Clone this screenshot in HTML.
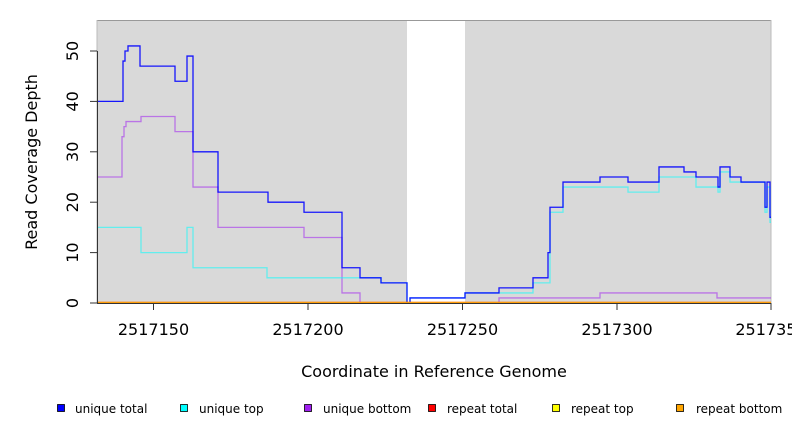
<!DOCTYPE html>
<html><head><meta charset="utf-8"><style>
html,body{margin:0;padding:0;background:#fff;}
svg{display:block;font-family:"DejaVu Sans","Liberation Sans",sans-serif;}
</style></head><body>
<svg id="s" width="792" height="432" viewBox="0 0 792 432">
<rect x="97" y="20" width="310" height="283" fill="#d9d9d9"/>
<rect x="465" y="20" width="306" height="283" fill="#d9d9d9"/>
<line x1="97" y1="20.5" x2="771" y2="20.5" stroke="#999" stroke-width="1"/>
<line x1="97" y1="20" x2="97" y2="303" stroke="#bbb"/>
<line x1="771" y1="20" x2="771" y2="303" stroke="#bbb"/>
<g id="lines"></g>
<g stroke="#333" stroke-width="1">
<line x1="97.5" y1="51" x2="97.5" y2="303"/>
<line x1="90" y1="303" x2="97" y2="303"/><line x1="90" y1="252.6" x2="97" y2="252.6"/>
<line x1="90" y1="202.2" x2="97" y2="202.2"/><line x1="90" y1="151.8" x2="97" y2="151.8"/>
<line x1="90" y1="101.4" x2="97" y2="101.4"/><line x1="90" y1="51" x2="97" y2="51"/>
<line x1="97" y1="303.5" x2="771" y2="303.5"/>
<line x1="153.5" y1="303" x2="153.5" y2="310"/><line x1="308" y1="303" x2="308" y2="310"/>
<line x1="462.5" y1="303" x2="462.5" y2="310"/><line x1="617" y1="303" x2="617" y2="310"/>
<line x1="771" y1="303" x2="771" y2="310"/>
</g>
<g font-size="16" fill="#000" text-anchor="middle">
<text transform="translate(73,303) rotate(-90)" dy="5">0</text>
<text transform="translate(73,252.6) rotate(-90)" dy="5">10</text>
<text transform="translate(73,202.2) rotate(-90)" dy="5">20</text>
<text transform="translate(73,151.8) rotate(-90)" dy="5">30</text>
<text transform="translate(73,101.4) rotate(-90)" dy="5">40</text>
<text transform="translate(73,51) rotate(-90)" dy="5">50</text>
<text x="153.5" y="335">2517150</text><text x="308" y="335">2517200</text>
<text x="462.5" y="335">2517250</text><text x="617" y="335">2517300</text>
<text x="771" y="335">2517350</text>
<text x="434" y="377">Coordinate in Reference Genome</text>
<text transform="translate(37,162) rotate(-90)">Read Coverage Depth</text>
</g>
<g font-size="12" fill="#000" stroke="#000" stroke-width="0.8">
<rect x="57.5" y="404.5" width="7" height="7" fill="#0000ff"/>
<rect x="180.5" y="404.5" width="7" height="7" fill="#00ffff"/>
<rect x="304.5" y="404.5" width="7" height="7" fill="#a020f0"/>
<rect x="428.5" y="404.5" width="7" height="7" fill="#ff0000"/>
<rect x="552.5" y="404.5" width="7" height="7" fill="#ffff00"/>
<rect x="676.5" y="404.5" width="7" height="7" fill="#ffa500"/>
</g>
<g font-size="12" fill="#000">
<text x="75" y="413">unique total</text><text x="199" y="413">unique top</text>
<text x="323" y="413">unique bottom</text><text x="447" y="413">repeat total</text>
<text x="571" y="413">repeat top</text><text x="696" y="413">repeat bottom</text>
</g>
</svg>
<script>
function Y(v){return 303-v*5.04;}
function path(pts){var d="M97,"+Y(pts[0][1]);for(var i=0;i<pts.length;i++){var x=pts[i][0],v=pts[i][1];if(i>0)d+=" H"+x;d+=" V"+Y(v);}d+=" H771";return d;}
var total=[[97,40],[123,48],[125,50],[128,51],[140,47],[175,44],[187,49],[193,30],[218,22],[268,20],[304,18],[342,7],[360,5],[381,4],[407,0],[410,1],[465,2],[499,3],[533,5],[548,10],[550,19],[563,24],[600,25],[628,24],[659,27],[684,26],[696,25],[718,23],[720,27],[730,25],[741,24],[765,19],[767,24],[770,17]];
var bottom=[[97,25],[122,33],[124,35],[126,36],[141,37],[175,34],[193,23],[218,15],[304,13],[342,2],[360,0],[499,1],[600,2],[717,1]];
var top_=[[97,15],[141,10],[187,15],[193,7],[267,5],[381,4],[407,0],[410,1],[465,2],[533,4],[550,18],[563,23],[628,22],[659,25],[696,23],[718,22],[720,26],[730,24],[765,18],[767,23],[770,16]];
var g=document.getElementById("lines");
function add(d,c,w,o){var p=document.createElementNS("http://www.w3.org/2000/svg","path");p.setAttribute("d",d);p.setAttribute("fill","none");p.setAttribute("stroke",c);p.setAttribute("stroke-width",w);p.setAttribute("stroke-opacity",o);g.appendChild(p);}
add(path(bottom),"#a020f0",1.3,0.55);
add(path(top_),"#00ffff",1.3,0.55);
add(path(total),"#0000ff",1.3,0.9);
add("M97,302.5 H771","#ff0000",1.5,0.6);
add("M97,302.5 H771","#ffa500",1.5,0.9);
</script>
</body></html>
